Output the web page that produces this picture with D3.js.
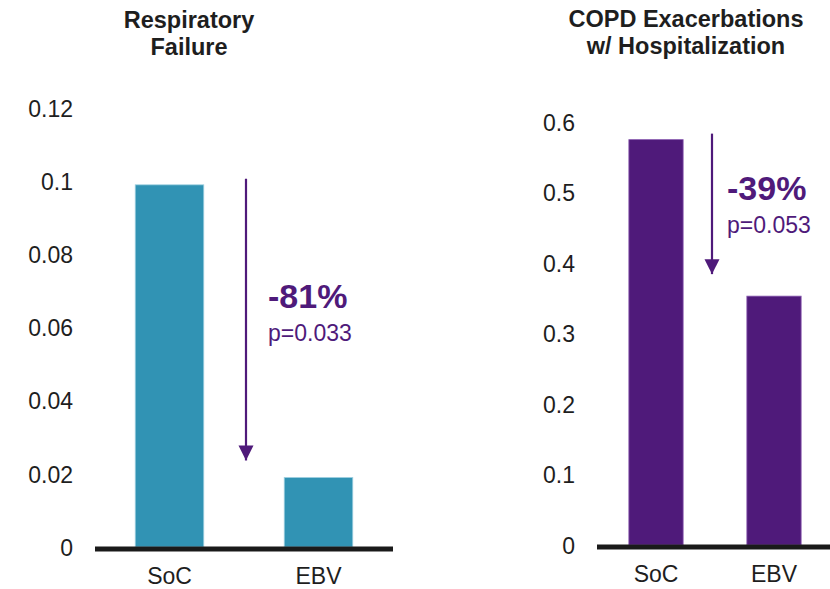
<!DOCTYPE html>
<html>
<head>
    <meta charset="utf-8">
    <script src="https://d3js.org/d3.v7.min.js"></script>
    <title>Respiratory Failure / COPD Exacerbations</title>
    <style>
        body {
            margin: 0px;
            background-color: #ffffff;
        }
        svg text {
            font-family: "Liberation Sans", Arial, sans-serif;
        }
        .domain {
            display: none;
        }
        .tick line {
            display: none;
        }
        .tick text {
            fill: #1e1e1e;
            font-size: 23px;
        }
        .panel-title {
            fill: #1e1e1e;
            font-size: 23.5px;
            font-weight: bold;
            text-anchor: middle;
        }
        .cat-label {
            fill: #1e1e1e;
            font-size: 23px;
            text-anchor: middle;
        }
        .change-label {
            fill: #4f1a7a;
            font-size: 34px;
            font-weight: bold;
        }
        .p-label {
            fill: #4f1a7a;
            font-size: 23px;
        }
    </style>
</head>
<body>
<svg width="830" height="589"></svg>
<script>
    // values
    const categories = ['SoC', 'EBV'];
    const respValues = [0.099, 0.019];
    const copdValues = [0.575, 0.353];
    const respTicks = [0, 0.02, 0.04, 0.06, 0.08, 0.1, 0.12];
    const copdTicks = [0, 0.1, 0.2, 0.3, 0.4, 0.5, 0.6];
    const respTitle = ['Respiratory', 'Failure'];
    const copdTitle = ['COPD Exacerbations', 'w/ Hospitalization'];
    const respChange = '-81%';
    const copdChange = '-39%';
    const respP = 'p=0.033';
    const copdP = 'p=0.053';

    const svg = d3.select('svg');
    const purple = '#4f1a7a';

    // arrowhead marker
    svg.append('defs').append('marker')
        .attr('id', 'arrowhead')
        .attr('viewBox', '0 0 10 10')
        .attr('refX', 10)
        .attr('refY', 5)
        .attr('markerUnits', 'userSpaceOnUse')
        .attr('markerWidth', 15)
        .attr('markerHeight', 16)
        .attr('orient', 'auto')
        .append('path')
        .attr('d', 'M0,0 L10,5 L0,10 Z')
        .attr('fill', purple);

    const drawPanel = p => {
        const g = svg.append('g');

        const xScale = d3.scaleBand()
            .domain(categories)
            .range(p.xRange)
            .paddingInner(0.54)
            .paddingOuter(0.27);
        const yScale = d3.scaleLinear()
            .domain([0, d3.max(p.ticks)])
            .range(p.yRange);

        const yAxis = d3.axisLeft(yScale)
            .tickValues(p.ticks)
            .tickFormat(d => d3.format('~g')(d))
            .tickSize(0)
            .tickPadding(22);
        g.append('g')
            .attr('transform', `translate(${p.xRange[0]},0)`)
            .call(yAxis)
            .selectAll('text')
            .attr('dy', '0.36em');

        g.selectAll('.bar')
            .data(p.values)
            .enter().append('rect')
            .attr('class', 'bar')
            .attr('x', (d, i) => xScale(categories[i]))
            .attr('y', d => yScale(d))
            .attr('width', xScale.bandwidth())
            .attr('height', d => yScale(0) - yScale(d))
            .attr('fill', p.color)
            .attr('stroke', p.edge)
            .attr('stroke-width', 0.8);

        // baseline
        g.append('line')
            .attr('x1', p.xRange[0])
            .attr('x2', p.xRange[1])
            .attr('y1', yScale(0) + 2)
            .attr('y2', yScale(0) + 2)
            .attr('stroke', '#1a1a1a')
            .attr('stroke-width', 5);

        g.selectAll('.cat-label')
            .data(categories)
            .enter().append('text')
            .attr('class', 'cat-label')
            .attr('x', d => xScale(d) + xScale.bandwidth() / 2)
            .attr('y', yScale(0) + 37)
            .text(d => d);

        const title = g.append('text')
            .attr('class', 'panel-title')
            .attr('x', p.titleX)
            .attr('y', p.titleY);
        p.title.forEach((t, i) => {
            title.append('tspan')
                .attr('x', p.titleX)
                .attr('dy', i === 0 ? 0 : 27)
                .text(t);
        });

        // arrow between the bars
        const gapLeft = xScale(categories[0]) + xScale.bandwidth();
        const gapRight = xScale(categories[1]);
        const ax = (gapLeft + gapRight) / 2 + p.arrowShift;
        g.append('line')
            .attr('x1', ax)
            .attr('x2', ax)
            .attr('y1', yScale(p.values[0]) - 6)
            .attr('y2', yScale(p.values[1]) - p.arrowGap)
            .attr('stroke', purple)
            .attr('stroke-width', 2.2)
            .attr('marker-end', 'url(#arrowhead)');

        g.append('text')
            .attr('class', 'change-label')
            .attr('x', ax + p.textOffset)
            .attr('y', p.changeY)
            .text(p.change);
        g.append('text')
            .attr('class', 'p-label')
            .attr('x', ax + p.textOffset)
            .attr('y', p.changeY + 33)
            .text(p.pText);
    };

    drawPanel({
        values: respValues,
        ticks: respTicks,
        title: respTitle,
        change: respChange,
        pText: respP,
        color: '#3193b4',
        edge: '#9fd0e0',
        xRange: [95, 393],
        yRange: [547, 108],
        titleX: 189,
        titleY: 28,
        arrowShift: 2,
        arrowGap: 17,
        textOffset: 22,
        changeY: 308
    });

    drawPanel({
        values: copdValues,
        ticks: copdTicks,
        title: copdTitle,
        change: copdChange,
        pText: copdP,
        color: '#4f1a7a',
        edge: '#8a5ab0',
        xRange: [597, 833],
        yRange: [545, 122],
        titleX: 686,
        titleY: 27,
        arrowShift: -3,
        arrowGap: 22,
        textOffset: 15,
        changeY: 200
    });
</script>
</body>
</html>
